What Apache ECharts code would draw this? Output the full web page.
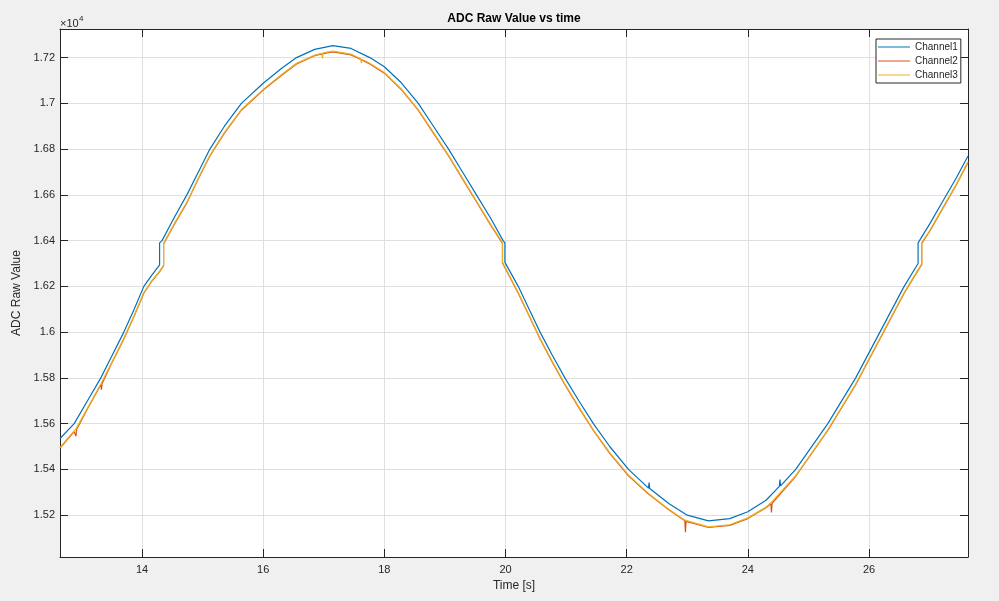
<!DOCTYPE html>
<html><head><meta charset="utf-8">
<script src="https://cdn.jsdelivr.net/npm/echarts@6/dist/echarts.min.js"></script>
<style>html,body{margin:0;padding:0;background:#f0f0f0;}#c{width:999px;height:601px;}</style>
</head><body><div id="c"></div>
<script>
const titleText = 'ADC Raw Value vs time';
const xName = 'Time [s]';
const yName = 'ADC Raw Value';
const seriesNames = ['Channel1', 'Channel2', 'Channel3'];
const xTicks = [14, 16, 18, 20, 22, 24, 26];
const yTicks = [15200, 15400, 15600, 15800, 16000, 16200, 16400, 16600, 16800, 17000, 17200];

// Channel1 (time, value)
const t1 = [12.646, 12.88, 13.10, 13.32, 13.51, 13.70, 13.87, 14.03, 14.15, 14.29, 14.29, 14.33, 14.53, 14.74, 14.93, 15.12, 15.36, 15.64, 16.00, 16.30, 16.55, 16.85, 17.15, 17.45, 17.76, 18.00, 18.28, 18.56, 18.81, 19.06, 19.29, 19.52, 19.75, 19.96, 19.99, 19.99, 20.21, 20.39, 20.57, 20.77, 20.98, 21.21, 21.45, 21.72, 22.03, 22.36, 22.37, 22.38, 22.70, 23.00, 23.35, 23.70, 24.00, 24.30, 24.52, 24.53, 24.54, 24.79, 25.32, 25.78, 26.18, 26.58, 26.81, 26.81, 27.00, 27.22, 27.44, 27.634];
const ch1 = [15535, 15600, 15700, 15800, 15900, 16000, 16100, 16200, 16245, 16294, 16390, 16400, 16500, 16600, 16700, 16800, 16900, 17000, 17088, 17152, 17200, 17236, 17252, 17240, 17200, 17160, 17090, 17000, 16900, 16800, 16700, 16600, 16500, 16400, 16390, 16305, 16200, 16100, 16000, 15900, 15800, 15700, 15600, 15500, 15400, 15318, 15342, 15316, 15250, 15200, 15175, 15185, 15215, 15265, 15326, 15356, 15328, 15400, 15600, 15800, 16000, 16200, 16300, 16390, 16472, 16573, 16674, 16770];

// Channel2 / Channel3 (shared time)
const t2 = [12.646, 12.88, 12.90, 12.91, 12.92, 13.10, 13.32, 13.33, 13.34, 13.51, 13.70, 13.87, 14.03, 14.15, 14.29, 14.356, 14.356, 14.53, 14.74, 14.93, 15.12, 15.36, 15.64, 16.00, 16.30, 16.55, 16.85, 16.97, 16.98, 16.99, 17.15, 17.45, 17.61, 17.62, 17.63, 17.76, 18.00, 18.28, 18.56, 18.81, 19.06, 19.29, 19.52, 19.75, 19.95, 19.95, 20.21, 20.39, 20.57, 20.77, 20.98, 21.21, 21.45, 21.72, 22.03, 22.36, 22.70, 22.96, 22.97, 22.98, 23.35, 23.70, 24.00, 24.30, 24.38, 24.39, 24.40, 24.79, 25.32, 25.78, 26.18, 26.58, 26.81, 26.87, 26.87, 27.00, 27.22, 27.44, 27.634];
const ch2 = [15493, 15565, 15572, 15545, 15575, 15665, 15770, 15748, 15774, 15870, 15970, 16070, 16170, 16218, 16264, 16290, 16385, 16470, 16565, 16670, 16770, 16870, 16970, 17058, 17122, 17172, 17208, 17216, 17217, 17218, 17225, 17212, 17192, 17191, 17190, 17172, 17132, 17060, 16970, 16870, 16770, 16670, 16570, 16470, 16388, 16302, 16170, 16070, 15970, 15870, 15770, 15670, 15570, 15470, 15372, 15292, 15222, 15175, 15125, 15173, 15146, 15155, 15185, 15232, 15250, 15212, 15252, 15370, 15570, 15770, 15970, 16170, 16270, 16295, 16388, 16440, 16542, 16643, 16742];
const ch3 = [15496, 15568, 15575, 15577, 15578, 15668, 15773, 15775, 15777, 15873, 15973, 16073, 16173, 16221, 16267, 16293, 16388, 16473, 16568, 16673, 16773, 16873, 16973, 17061, 17125, 17175, 17211, 17219, 17196, 17221, 17228, 17215, 17195, 17176, 17193, 17175, 17135, 17063, 16973, 16873, 16773, 16673, 16573, 16473, 16391, 16305, 16173, 16073, 15973, 15873, 15773, 15673, 15573, 15473, 15375, 15295, 15225, 15178, 15177, 15176, 15149, 15158, 15188, 15235, 15253, 15254, 15255, 15373, 15573, 15773, 15973, 16173, 16273, 16298, 16391, 16443, 16545, 16646, 16745];

const colors = ['#0072BD', '#D95319', '#EDB120'];
const ink = '#262626';
const font = 'Liberation Sans, Arial, sans-serif';

function pairs(t, v) { return t.map((x, i) => [x, v[i]]); }
function yFmt(v) { return String(parseFloat((v / 10000).toFixed(4))); }

const chart = echarts.init(document.getElementById('c'), null, { renderer: 'canvas' });
const xMin = 12.646, xMax = 27.634, yMin = 15017, yMax = 17325;

const tickStyle = { show: true, inside: true, length: 8, lineStyle: { color: ink, width: 1 } };
const lineStyle = { show: true, onZero: false, lineStyle: { color: ink, width: 1 } };

chart.setOption({
  animation: false,
  backgroundColor: '#f0f0f0',
  textStyle: { fontFamily: font },
  grid: { left: 60, right: 31, top: 29, bottom: 44, show: true, backgroundColor: '#ffffff', borderWidth: 0 },
  legend: {
    data: seriesNames,
    orient: 'vertical',
    left: 876, top: 39,
    backgroundColor: '#ffffff',
    borderColor: ink, borderWidth: 1,
    padding: [2, 3, 2, 2],
    icon: 'rect',
    itemWidth: 32, itemHeight: 1, itemGap: 2,
    textStyle: { fontSize: 10, color: ink, lineHeight: 12, fontFamily: font }
  },
  graphic: [
    { type: 'text', x: 514, y: 19, style: { text: titleText, font: 'bold 12px ' + font, fill: '#000', textAlign: 'center', textVerticalAlign: 'middle' } },
    { type: 'text', x: 60, y: 24, style: { text: '×10', font: '11px ' + font, fill: ink, textAlign: 'left', textVerticalAlign: 'middle' } },
    { type: 'text', x: 79, y: 19, style: { text: '4', font: '8px ' + font, fill: ink, textAlign: 'left', textVerticalAlign: 'middle' } }
  ],
  xAxis: [
    {
      type: 'value', min: xMin, max: xMax, position: 'bottom',
      axisLine: lineStyle,
      axisTick: Object.assign({ customValues: xTicks }, tickStyle),
      axisLabel: { customValues: xTicks, fontSize: 11, color: ink, margin: 7, fontFamily: font },
      splitLine: { show: true, lineStyle: { color: '#dfdfdf', width: 1 } },
      name: xName, nameLocation: 'middle', nameGap: 20,
      nameTextStyle: { fontSize: 12, color: ink, fontFamily: font }
    },
    {
      type: 'value', min: xMin, max: xMax, position: 'top',
      axisLine: lineStyle,
      axisTick: Object.assign({ customValues: xTicks }, tickStyle),
      axisLabel: { show: false }, splitLine: { show: false }
    }
  ],
  yAxis: [
    {
      type: 'value', min: yMin, max: yMax, position: 'left',
      axisLine: lineStyle,
      axisTick: Object.assign({ customValues: yTicks }, tickStyle),
      axisLabel: { customValues: yTicks, formatter: yFmt, fontSize: 11, color: ink, margin: 5, fontFamily: font },
      splitLine: { show: true, lineStyle: { color: '#dfdfdf', width: 1 } },
      name: yName, nameLocation: 'middle', nameGap: 29, nameRotate: 90,
      nameTextStyle: { fontSize: 12, color: ink, fontFamily: font }
    },
    {
      type: 'value', min: yMin, max: yMax, position: 'right',
      axisLine: lineStyle,
      axisTick: Object.assign({ customValues: yTicks }, tickStyle),
      axisLabel: { show: false }, splitLine: { show: false }
    }
  ],
  series: [
    { name: seriesNames[0], type: 'line', data: pairs(t1, ch1), symbol: 'none', color: colors[0], lineStyle: { width: 1.2, color: colors[0] }, xAxisIndex: 0, yAxisIndex: 0 },
    { name: seriesNames[1], type: 'line', data: pairs(t2, ch2), symbol: 'none', color: colors[1], lineStyle: { width: 1.2, color: colors[1] }, xAxisIndex: 0, yAxisIndex: 0 },
    { name: seriesNames[2], type: 'line', data: pairs(t2, ch3), symbol: 'none', color: colors[2], lineStyle: { width: 1.2, color: colors[2] }, xAxisIndex: 0, yAxisIndex: 0 }
  ]
});
</script>
</body></html>
